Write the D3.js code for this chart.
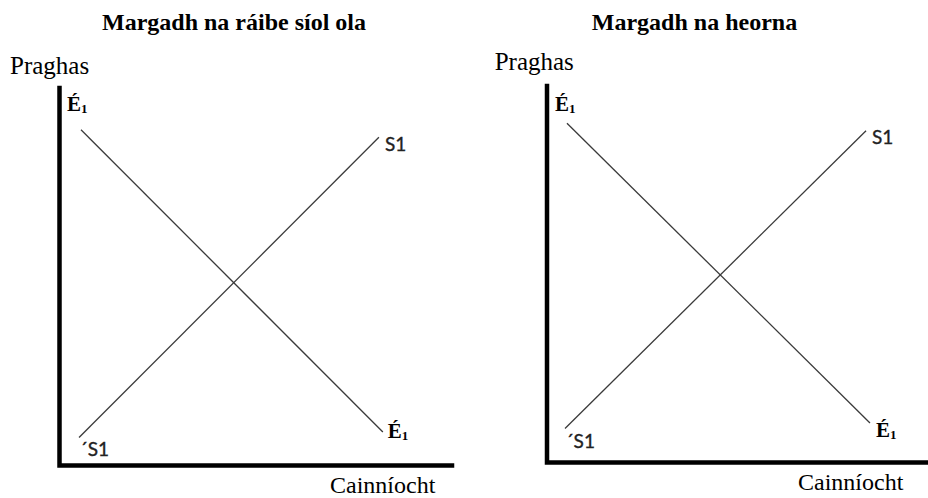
<!DOCTYPE html>
<html>
<head>
<meta charset="utf-8">
<script src="https://cdn.jsdelivr.net/npm/d3@7"></script>
<style>
  body { margin: 0; background: #fff; }
  svg { display: block; }
</style>
</head>
<body>
<svg width="928" height="498"></svg>
<script>
// the two markets, same curves in both
var titles = ["Margadh na ráibe síol ola", "Margadh na heorna"];
var yLabel = "Praghas";
var xLabel = "Cainníocht";
var demandLabel = "É";
var supplyLabel = "S1";

// (quantity, price) end points of each curve
var demand = [{q: 0.5, p: 9.0}, {q: 8.2, p: 0.9}];
var supply = [{q: 0.45, p: 0.75}, {q: 8.1, p: 8.8}];

var svg = d3.select("svg");
var serif = "'Liberation Serif', 'Times New Roman', serif";

// panel geometry
var panels = [
  {title: titles[0], cx: 234, axisX: 59.5, top: 88, base: 465.5, right: 452,
   xr: [61.4, 453.4], yr: [465.5, 92.5], ylab: [10, 74], xlab: [330, 493],
   eTop: [-14, -19], eBot: [5, 6], sTop: [6, 14], sBot: [1, 18]},
  {title: titles[1], cx: 694.5, axisX: 547, top: 86, base: 462.5, right: 930,
   xr: [547.3, 940.8], yr: [456.3, 86.3], ylab: [494.7, 70], xlab: [798, 490],
   eTop: [-12, -12], eBot: [6, 14], sTop: [6, 13], sBot: [1, 19]}
];

panels.forEach(function(P) {
  var g = svg.append("g");
  var x = d3.scaleLinear().domain([0, 10]).range(P.xr);
  var y = d3.scaleLinear().domain([0, 10]).range(P.yr);

  g.append("text")
    .attr("x", P.cx).attr("y", 30)
    .attr("text-anchor", "middle")
    .style("font-family", serif)
    .style("font-weight", "bold")
    .style("font-size", "24px")
    .text(P.title);

  g.append("text")
    .attr("x", P.ylab[0]).attr("y", P.ylab[1])
    .style("font-family", serif)
    .style("font-size", "25px")
    .text(yLabel);

  g.append("text")
    .attr("x", P.xlab[0]).attr("y", P.xlab[1])
    .style("font-family", serif)
    .style("font-size", "24px")
    .text(xLabel);

  // axes frame
  g.append("path")
    .attr("d", d3.line()([[P.axisX, P.top], [P.axisX, P.base], [P.right, P.base]]))
    .attr("fill", "none")
    .attr("stroke", "#000")
    .attr("stroke-width", 4.5)
    .attr("stroke-linejoin", "miter")
    .attr("stroke-linecap", "square");

  var line = d3.line()
    .x(function(d) { return x(d.q); })
    .y(function(d) { return y(d.p); });

  g.selectAll(".curve")
    .data([demand, supply])
    .enter().append("path")
    .attr("class", "curve")
    .attr("d", line)
    .attr("fill", "none")
    .attr("stroke", "#3a3a3a")
    .attr("stroke-width", 1.3);

  // demand labels at both ends
  [[demand[0], P.eTop], [demand[1], P.eBot]].forEach(function(a) {
    var t = g.append("text")
      .attr("x", x(a[0].q) + a[1][0])
      .attr("y", y(a[0].p) + a[1][1])
      .style("font-family", serif)
      .style("font-weight", "bold")
      .style("font-size", "21px");
    t.append("tspan").text(demandLabel);
    t.append("tspan").attr("dy", 2).style("font-size", "13px").text("1");
  });

  // supply labels
  g.append("text")
    .attr("x", x(supply[1].q) + P.sTop[0])
    .attr("y", y(supply[1].p) + P.sTop[1])
    .style("font-family", "Lato, 'Open Sans', sans-serif")
    .style("font-size", "19px")
    .attr("fill", "#222")
    .attr("stroke", "#222").attr("stroke-width", 0.35)
    .text(supplyLabel);

  g.append("text")
    .attr("x", x(supply[0].q) + P.sBot[0])
    .attr("y", y(supply[0].p) + P.sBot[1])
    .style("font-family", "Lato, 'Open Sans', sans-serif")
    .style("font-size", "19px")
    .attr("fill", "#222")
    .attr("stroke", "#222").attr("stroke-width", 0.35)
    .text("´" + supplyLabel);
});
</script>
</body>
</html>
